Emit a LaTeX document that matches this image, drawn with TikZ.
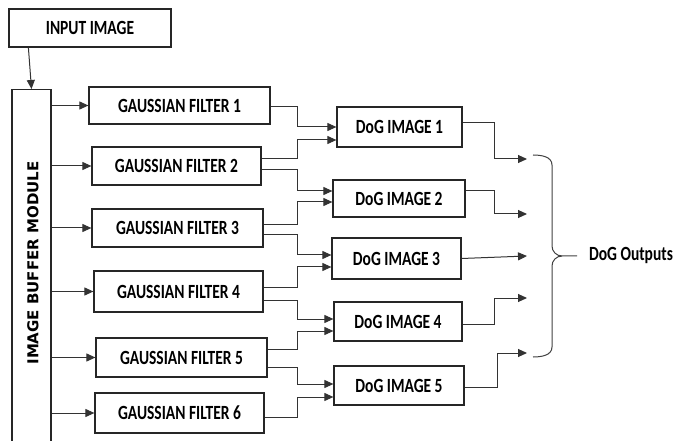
\documentclass[tikz,border=0pt]{standalone}
\usepackage{fontspec}
\setmainfont{Carlito}
\newfontfamily\buffont{DejaVu Sans}
\usepackage{graphicx}
\usepackage{tikz}
\usetikzlibrary{arrows.meta, positioning}
\newcommand{\alto}[1]{\scalebox{1}[1.3]{#1}}

\begin{document}
\begin{tikzpicture}[
    x=1pt, y=-1pt,
    >={Triangle[length=9pt,width=8pt]},
    bloco/.style={
        rectangle,
        draw=black!85,
        line width=1.2pt,
        inner sep=0pt,
        font=\bfseries\fontsize{15.5}{18}\selectfont
    },
    seta/.style={->, line width=1pt, draw=black!80}
]
\useasboundingbox (0,0) rectangle (689,441);
\clip (0,0) rectangle (689,441);

\node[bloco, minimum width=162pt, minimum height=38pt] (inp) at (90,28) {\alto{INPUT IMAGE}};

\node[bloco, anchor=north, minimum width=39pt, minimum height=380pt] (buf) at (31.5,89) {};
\node[rotate=90, font=\buffont\bfseries\fontsize{15}{18}\selectfont] (buflabel) at (33,263) {IMAGE BUFFER MODULE};

\node[bloco, minimum width=181pt, minimum height=37pt] (gf1) at (179.5,105.5) {\alto{GAUSSIAN FILTER 1}};
\node[bloco, minimum width=169pt, minimum height=38pt] (gf2) at (176.5,166) {\alto{GAUSSIAN FILTER 2}};
\node[bloco, minimum width=171pt, minimum height=38pt] (gf3) at (177.5,228) {\alto{GAUSSIAN FILTER 3}};
\node[bloco, minimum width=169pt, minimum height=41pt] (gf4) at (178.5,291.5) {\alto{GAUSSIAN FILTER 4}};
\node[bloco, minimum width=171pt, minimum height=39pt] (gf5) at (181.5,357.5) {\alto{GAUSSIAN FILTER 5}};
\node[bloco, minimum width=169pt, minimum height=40pt] (gf6) at (179.5,413) {\alto{GAUSSIAN FILTER 6}};

\node[bloco, minimum width=125pt, minimum height=40pt] (dog1) at (399.5,127) {\alto{DoG IMAGE 1}};
\node[bloco, minimum width=132pt, minimum height=37pt] (dog2) at (399,198.5) {\alto{DoG IMAGE 2}};
\node[bloco, minimum width=129pt, minimum height=41pt] (dog3) at (396.5,258.5) {\alto{DoG IMAGE 3}};
\node[bloco, minimum width=128pt, minimum height=39pt] (dog4) at (398,321.5) {\alto{DoG IMAGE 4}};
\node[bloco, minimum width=130pt, minimum height=39pt] (dog5) at (399,385.5) {\alto{DoG IMAGE 5}};

\node[font=\bfseries\fontsize{15.5}{18}\selectfont] (saida) at (631,255) {\alto{DoG Outputs}};

\coordinate (out1) at (527,159);
\coordinate (out2) at (527,214);
\coordinate (out3) at (527,256);
\coordinate (out4) at (527,298);
\coordinate (out5) at (527,353);

% entrada -> buffer -> filtros
\draw[seta] ([xshift=20pt]inp.south west) -- (buf.north);
\draw[seta] (buf.east |- gf1.west) -- (gf1.west);
\draw[seta] (buf.east |- gf2.west) -- (gf2.west);
\draw[seta] (buf.east |- gf3.west) -- (gf3.west);
\draw[seta] (buf.east |- gf4.west) -- (gf4.west);
\draw[seta] (buf.east |- gf5.west) -- (gf5.west);
\draw[seta] (buf.east |- gf6.west) -- (gf6.west);

% filtros -> DoG
\draw[seta] ([yshift=-1.5pt]gf1.east) -- ++(27,0) |- (dog1.west);
\draw[seta] ([yshift=7pt]gf2.east) -- ++(36,0) |- ([yshift=-13pt]dog1.west);
\draw[seta] ([yshift=-4pt]gf2.east) -- ++(36,0) |- ([yshift=7.5pt]dog2.west);
\draw[seta] ([yshift=3pt]gf3.east) -- ++(34,0) |- ([yshift=-3.5pt]dog2.west);
\draw[seta] ([yshift=-7pt]gf3.east) -- ++(34,0) |- ([yshift=3.5pt]dog3.west);
\draw[seta] ([yshift=3.5pt]gf4.east) -- ++(34,0) |- ([yshift=-8.5pt]dog3.west);
\draw[seta] ([yshift=-8.5pt]gf4.east) -- ++(34,0) |- ([yshift=2.5pt]dog4.west);
\draw[seta] ([yshift=8.5pt]gf5.east) -- ++(30,0) |- ([yshift=-9.5pt]dog4.west);
\draw[seta] ([yshift=-9.5pt]gf5.east) -- ++(30,0) |- ([yshift=1.5pt]dog5.west);
\draw[seta] ([yshift=-4pt]gf6.east) -- ++(33,0) |- ([yshift=-11.5pt]dog5.west);

% DoG -> saidas
\draw[seta] ([yshift=4pt]dog1.east) -- ++(32,0) |- (out1);
\draw[seta] ([yshift=7.5pt]dog2.east) -- ++(29,0) |- (out2);
\draw[seta] (dog3.east) -- (out3);
\draw[seta] ([yshift=-2.5pt]dog4.east) -- ++(32,0) |- (out4);
\draw[seta] ([yshift=-1.5pt]dog5.east) -- ++(33,0) |- (out5);

% chave
\draw[line width=1pt, draw=black!75] (533,155) to[out=0,in=90] (552,165) -- (552,246)
    to[out=-90,in=180] (562,256) -- (577,256);
\draw[line width=1pt, draw=black!75] (562,256) to[out=180,in=90] (552,266) -- (552,347)
    to[out=-90,in=0] (533,357);

\end{tikzpicture}
\end{document}
